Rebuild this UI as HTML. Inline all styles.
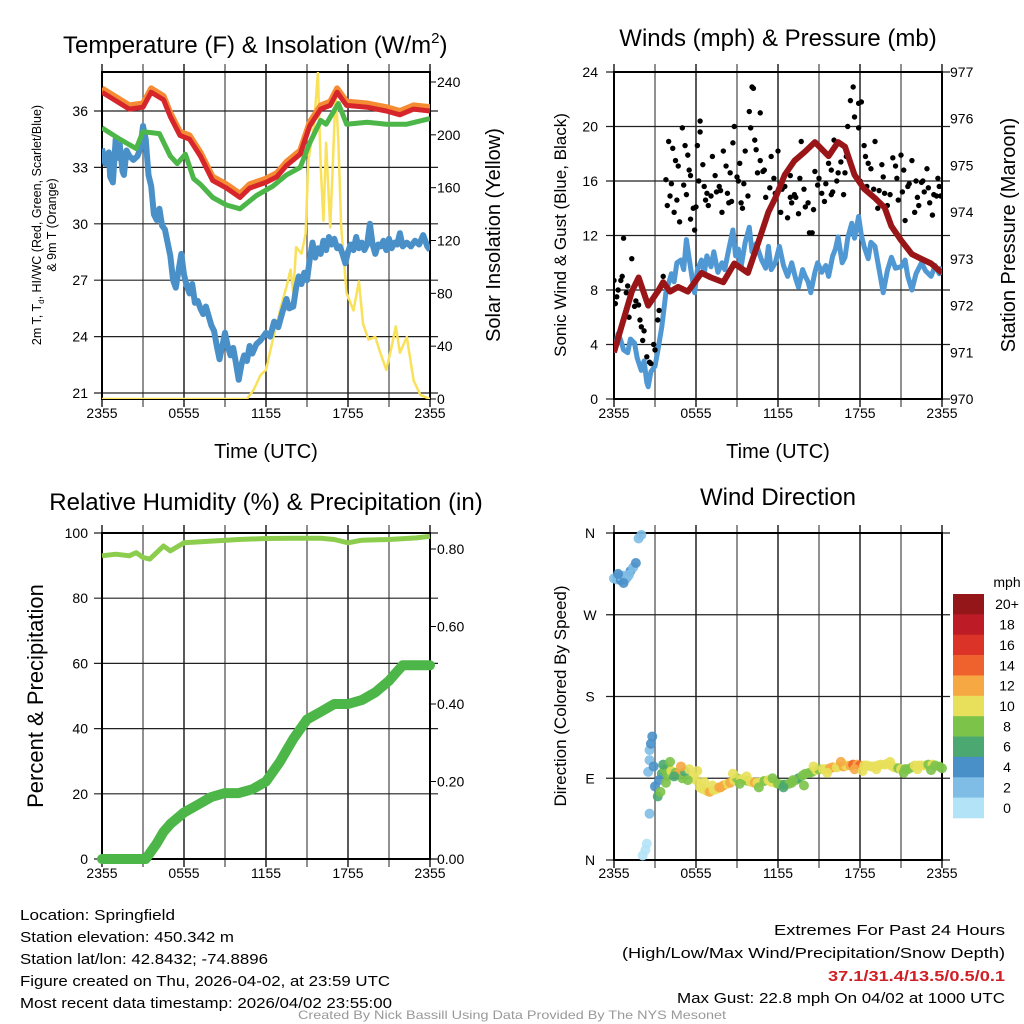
<!DOCTYPE html>
<html><head><meta charset="utf-8"><style>
html,body{margin:0;padding:0;background:#fff;}
svg{display:block;font-family:"Liberation Sans",Arial,sans-serif;}
</style></head><body>
<svg id="c" width="1024" height="1024" viewBox="0 0 1024 1024" xmlns="http://www.w3.org/2000/svg"></svg>
<script>
// ---------- DATA ----------
const tempRedH=[0,2,3,3.6,4.5,5,5.7,6.4,7.2,8.1,9.1,10.1,10.8,12,12.8,13.5,14.5,15.2,16,16.7,17.2,17.9,19.4,20.8,21.8,22.8,24];
const tempRedV=[37.0,36.1,36.2,37.0,36.6,35.7,34.7,34.5,33.6,32.3,31.9,31.4,31.9,32.2,32.5,33.1,33.7,35.2,36.1,36.3,37.0,36.3,36.2,36.0,35.8,36.1,36.0];
const tempOrgV=[37.2,36.3,36.4,37.2,36.8,35.9,34.9,34.7,33.8,32.5,32.1,31.6,32.1,32.4,32.7,33.3,33.9,35.4,36.3,36.5,37.2,36.5,36.4,36.2,36.0,36.3,36.2];
const greenH=[0,1.3,2.5,3,4.2,5,5.5,6.1,6.7,7.2,8.1,9.1,10.1,11.3,12.5,13.5,14.5,15.2,16,16.4,17.3,17.9,19.4,20.8,22.3,24];
const greenV=[35.1,34.5,34.0,34.9,34.8,33.6,33.2,33.7,32.4,32.1,31.4,31.0,30.8,31.5,32.0,32.6,33.0,34.3,35.5,35.3,36.4,35.3,35.4,35.3,35.3,35.6];
const dewH=[0,0.25,0.5,0.6,0.8,1.0,1.1,1.3,1.5,1.6,1.8,2.0,2.3,2.6,2.8,3.0,3.2,3.4,3.6,3.8,4.0,4.2,4.4,4.6,4.8,5.0,5.2,5.4,5.6,5.8,6.0,6.2,6.4,6.6,6.8,7.0,7.2,7.4,7.6,7.8,8.0,8.2,8.4,8.6,8.8,9.0,9.2,9.4,9.6,9.8,10.0,10.2,10.4,10.6,10.8,11.0,11.3,11.6,12.0,12.3,12.6,12.9,13.2,13.5,13.7,14.0,14.2,14.4,14.6,14.8,15.0,15.2,15.4,15.6,15.8,16.0,16.2,16.4,16.6,16.8,17.0,17.2,17.4,17.6,17.8,18.0,18.2,18.4,18.6,18.8,19.0,19.2,19.4,19.6,19.8,20.0,20.2,20.4,20.6,20.8,21.0,21.2,21.4,21.6,21.8,22.0,22.3,22.6,22.9,23.2,23.5,23.8,24];
const dewV=[34.0,33.2,33.8,32.5,32.2,34.5,33.5,34.2,32.8,32.6,33.9,33.6,33.4,33.6,34.0,35.2,34.5,32.6,32.0,30.5,30.2,30.8,29.9,29.7,29.0,28.3,27.0,26.6,27.5,28.4,27.3,26.7,26.3,26.8,25.8,25.9,25.5,25.2,25.6,25.1,24.6,24.3,23.5,22.8,23.5,24.2,23.5,23.0,23.4,22.6,21.7,22.5,23.0,22.7,23.5,23.1,23.6,23.8,24.2,24.0,24.8,24.5,25.3,26.0,25.5,25.6,26.6,27.2,26.8,27.4,27.0,28.1,29.0,28.2,28.7,28.4,29.1,28.6,29.3,28.9,29.2,28.7,28.8,28.4,27.9,28.5,28.9,28.6,29.3,28.7,29.0,28.6,28.9,30.0,28.9,28.4,28.9,28.8,29.1,28.6,29.2,28.7,29.0,28.9,29.5,28.8,29.0,28.8,29.1,28.9,29.4,28.8,28.6];
const solarH=[0,10.6,11.1,11.6,12,12.5,13.1,13.5,13.8,14,14.2,14.6,14.9,15.1,15.5,15.8,16,16.2,16.4,16.7,16.9,17.1,17.3,17.5,17.9,18.4,18.8,19.1,19.5,20,20.3,20.8,21.2,21.5,21.8,22.3,22.8,23.3,24];
const solarV=[0,0,7,18,22,45,70,85,98,80,115,110,125,181,206,247,176,135,194,130,181,234,194,130,80,67,89,57,45,47,37,22,40,55,35,47,14,3,0];
const windH=[0,0.3,0.5,0.7,1,1.2,1.5,1.7,2,2.2,2.4,2.5,2.7,3,3.2,3.5,3.7,3.8,4.0,4.2,4.4,4.6,4.9,5.1,5.3,5.5,5.7,5.9,6.1,6.4,6.6,6.8,7.1,7.3,7.6,7.9,8.1,8.4,8.7,8.9,9.1,9.3,9.6,9.9,10.1,10.4,10.8,11.1,11.3,11.5,11.8,12.1,12.4,12.7,13.0,13.3,13.5,13.8,14,14.2,14.4,14.7,14.9,15.2,15.5,15.7,16.0,16.2,16.4,16.7,16.9,17.1,17.4,17.6,17.9,18.1,18.3,18.6,18.8,19.1,19.4,19.7,20.0,20.3,20.6,21,21.3,21.5,21.8,22.1,22.5,22.8,23.2,23.5,23.8,24];
const windV=[3.4,4.8,4.3,3.6,3.4,4.4,4.1,3.0,2.1,2.8,1.2,0.9,2.0,2.4,3.5,5.3,7.0,7.8,8.5,9.2,8.6,10.0,10.2,9.5,11.7,10.3,9.0,7.8,9.5,10.2,9.2,10.5,9.7,10.8,9.3,10.0,9.5,11.0,12.4,10.5,11.0,9.7,11.5,12.6,10.8,11.4,10.2,9.6,11.2,9.5,10.0,11.2,9.8,9.0,10.0,8.8,8.2,9.5,9.0,8.6,7.8,9.3,10.0,9.3,9.8,9.0,10.5,11.0,11.9,10.0,10.4,11.8,12.9,11.8,13.4,12.0,11.2,10.3,11.5,11.2,9.5,7.8,9.4,10.4,9.6,9.7,10.2,9.0,8.0,9.2,10.0,9.4,9.0,9.8,9.2,9.7];
const presH=[0,0.5,1.3,1.8,2.5,3.2,3.6,4.1,4.7,5.4,6.4,7.1,8,8.8,9.8,10.5,11.3,11.8,12.5,13.2,14,14.7,15.7,16.4,16.9,17.6,18.3,19.1,19.8,20.3,21,21.8,22.5,23.2,24];
const presV=[971.0,971.5,972.3,972.6,972.0,972.3,972.5,972.3,972.4,972.3,972.7,972.6,972.5,972.9,972.7,973.3,974.0,974.3,974.8,975.1,975.3,975.5,975.2,975.5,975.4,974.8,974.5,974.3,974.1,973.7,973.4,973.1,973.0,972.9,972.7];
const gustH=[0,0.1,0.3,0.5,0.7,0.9,1.1,1.3,1.5,1.8,1.9,2,2.1,2.4,2.6,2.7,3,3.2,3.3,3.3,3.6,3.8,3.9,4,4.1,4.3,4.4,4.6,4.7,4.8,5,5.1,5.2,5.4,5.5,5.8,5.9,6,6.1,6.3,6.3,6.5,6.6,6.8,6.9,7.1,7.4,7.5,7.7,7.9,8,8.2,8.3,8.5,8.7,8.8,9,9.2,9.3,9.4,9.6,9.8,9.9,10,10.1,10.2,10.3,10.4,10.7,10.7,10.9,11.4,11.5,11.8,12,12.2,12.5,12.7,13,13.2,13.5,13.6,13.7,14,14.2,14.3,14.5,14.7,14.9,15.2,15.4,15.7,15.9,16.1,16.4,16.6,16.9,17.1,17.3,17.5,17.6,17.9,17.9,18.1,18.3,18.4,18.6,18.8,19.1,19.4,19.6,19.8,20,20.4,20.6,20.8,21,21.2,21.3,21.5,21.8,22,22.1,22.3,22.6,22.7,22.9,23.1,23.3,23.6,23.7,23.9,
 0.2,0.6,1.0,1.6,2.2,2.9,4.2,4.5,5.3,5.6,6.2,6.7,7.2,7.8,8.4,9.1,9.5,10.5,11.1,11.7,12.3,12.9,13.3,13.9,14.6,15.0,15.5,16.0,16.3,16.8,17.0,18.0,18.5,19.0,19.3,19.7,20.2,20.7,21.1,21.6,22.2,22.5,23.0,23.4,23.8,15.9,12.9,11.0,8.6,5.6];
const gustV=[8.7,7.0,8.0,8.7,11.8,7.8,6.0,10.3,6.8,6.9,5.8,5.3,4.3,3.1,2.7,2.6,3.6,5.8,6.5,8.0,9.0,16.1,14.2,18.9,14.9,18.4,13.7,14.6,17.1,13.0,19.9,15.7,18.6,17.9,16.8,14.0,12.4,14.1,18.6,19.6,20.4,17.2,15.6,15.1,14.2,14.9,16.4,15.2,15.6,13.7,18.2,17.1,15.1,16.6,18.8,20.0,16.3,17.3,14.4,14.0,18.2,14.9,21.1,19.9,22.9,22.8,19.0,18.3,21.0,17.5,16.7,15.5,17.8,15.1,18.2,13.7,15.6,13.3,14.4,15.0,13.6,16.2,18.9,14.1,14.4,12.2,12.2,16.7,15.7,15.1,14.5,17.3,16.8,19.0,16.6,17.4,16.6,20.0,21.9,22.9,20.7,19.9,21.7,21.8,18.6,17.8,17.3,16.9,18.9,15.3,17.2,15.1,14.2,17.7,17.1,14.6,17.9,16.8,13.1,15.6,17.5,13.7,16.0,14.2,16.0,15.2,16.9,14.4,13.5,14.9,16.2,14.9,
 7.5,9.0,8.3,7.2,5.0,4.0,15.8,17.5,15.0,16.4,16.0,14.6,17.8,15.3,14.4,16.0,15.8,16.6,14.8,16.2,15.4,16.4,14.8,15.4,13.9,16.2,15.8,15.2,16.0,15.0,17.8,16.0,15.6,15.4,14.0,16.3,15.0,16.2,15.2,15.8,14.8,15.9,15.5,15.0,15.6,15.0,14.8,16.8,14.5,13.2];
const rhH=[0,1,2,2.5,3,3.5,4,4.5,5,6,8,10,12,14,16,17,18,19,21,23,24];
const rhV=[93,93.5,93,94,92.5,92,94,96,94.5,97,97.5,98,98.3,98.4,98.4,98,97,97.8,98,98.5,99];
const prcH=[0,3.2,4,4.5,5,6,7,8,9,10,11,12,13,14,15,16,17,18,19,20,21,21.5,22,24];
const prcV=[0,0,0.04,0.07,0.09,0.12,0.14,0.16,0.17,0.17,0.18,0.2,0.25,0.31,0.36,0.38,0.40,0.40,0.41,0.43,0.46,0.48,0.50,0.50];
const dirH=[0,0.2,0.4,0.5,0.6,0.7,0.8,0.9,1.0,1.2,1.4,1.6,1.8,2.0,2.1,2.3,2.4,2.6,2.6,2.5,2.6,2.7,2.8,2.9,3.0,3.2,3.4,3.5,3.7,3.9,4.0,4.2,4.5,4.7,5.0,5.2,5.5,5.8,6.0,6.3,6.5,6.8,7.0,7.3,7.5,7.8,8.0,8.3,8.5,8.8,9.0,9.3,9.5,9.8,10.0,10.3,10.5,10.8,11.0,11.3,11.5,11.8,12.0,12.3,12.5,12.8,13.0,13.3,13.5,13.8,14.0,14.3,14.5,14.8,15.0,15.3,15.5,15.8,16.0,16.3,16.5,16.8,17.0,17.3,17.5,17.8,18.0,18.3,18.5,18.8,19.0,19.3,19.5,19.8,20.0,20.3,20.5,20.8,21.0,21.3,21.5,21.8,22.0,22.3,22.5,22.8,23.0,23.3,23.5,23.8,24.0,
 0.3,0.7,1.1,3.3,3.6,3.8,4.1,4.4,4.9,5.4,6.1,6.6,7.2,7.7,8.7,9.2,9.7,10.6,11.6,12.4,13.1,13.9,14.6,15.6,16.6,17.6,18.2,19.2,20.2,21.2,22.2,23.2];
const dirV=[310,309,312,308,311,313,309,310,312,318,322,327,354,358,5,11,18,51,110,97,121,128,136,103,81,70,75,95,100,92,100,98,96,95,90,97,100,92,88,80,78,76,75,77,78,80,82,84,85,88,90,89,88,87,86,85,85,86,87,88,86,85,84,83,83,84,85,88,90,93,95,96,97,99,100,100,100,101,102,102,103,103,104,104,105,105,104,104,104,103,103,104,105,105,106,104,102,101,100,100,100,102,104,104,104,104,105,105,104,103,101,
 315,305,314,88,105,85,108,92,103,88,98,86,82,80,95,84,92,80,90,80,88,82,103,96,108,100,98,100,108,96,100,99];
const dirS=[3,3.5,3,4,3.5,3,4,3.5,3,4,3.5,4,2.5,2.5,1,1.5,1.5,3,3,2.5,3,4,5,5,5,7,8,7,8,9,8,10,9,12,8,6,10,10,11,10,10,11,12,10,11,12,13,10,12,10,9,10,11,9,10,12,11,10,9,10,11,10,8,9,7,8,9,8,7,8,9,8,9,10,9,10,11,12,13,11,11,12,10,13,14,13,15,11,10,11,10,10,11,10,10,11,10,9,10,8,9,9,10,11,10,10,9,10,9,8,8,
 4,4,3,5,7,8,9,7,12,9,10,11,10,12,10,8,10,9,8,7,9,8,10,11,12,13,10,10,11,9,10,8];
const temp1Ticks=[21,24,27,30,33,36];
const solarTicks=[0,40,80,120,160,200,240];
const windTicks=[0,4,8,12,16,20,24];
const presTicks=[970,971,972,973,974,975,976,977];
const rhTicks=[0,20,40,60,80,100];
const prcTicks=[0,0.2,0.4,0.6,0.8];
const prcTickLabels=["0.00","0.20","0.40","0.60","0.80"];
const dirTicks=[0,90,180,270,360];
const dirTickLabels=["N","E","S","W","N"];
const timeTickH=[0,6,12,18,24];
const timeTickLabels=["2355","0555","1155","1755","2355"];
const cbLabels=["20+","18","16","14","12","10","8","6","4","2","0"];
const cbColors=["#941618","#bd1c26","#db3328","#f0622d","#f6a943","#e8e05a","#7cc34a","#4aa870","#4a90c8","#7fbde6","#b3e3f7"];

// ---------- HELPERS ----------
const NS="http://www.w3.org/2000/svg";
const svg=document.getElementById('c');
function mk(tag,attrs,parent){const e=document.createElementNS(NS,tag);for(const k in attrs)e.setAttribute(k,attrs[k]);(parent||svg).appendChild(e);return e;}
function txt(s,x,y,size,anchor,parent,extra){const e=mk('text',Object.assign({x:x,y:y,'font-size':size,'text-anchor':anchor||'start',fill:'#000'},extra||{}),parent);e.textContent=s;return e;}
function lin(d0,d1,p0,p1){return v=>p0+(v-d0)*(p1-p0)/(d1-d0);}
function poly(xs,ys,fx,fy){return xs.map((h,i)=>fx(h).toFixed(1)+','+fy(ys[i]).toFixed(1)).join(' ');}
function speedColor(s){const idx=Math.min(10,Math.floor(s/2));return cbColors[10-idx];}

function panelFrame(g,L,R,T,B,hGridYs){
  for(let h=0;h<=24;h+=3){const x=L+(R-L)*h/24;
    const e=mk('line',{x1:x,x2:x,y1:T-8,y2:B+8,stroke:(h%6===0)?'#000':'#555','stroke-width':1.3},g);
    }
  hGridYs.forEach(y=>{const e=mk('line',{x1:L-8,x2:R+8,y1:y,y2:y,stroke:'#222','stroke-width':1.2},g);
    });
  const b=mk('rect',{x:L,y:T,width:R-L,height:B-T,fill:'none',stroke:'#000','stroke-width':2},g);
  
}
function xLabels(g,L,R,y){timeTickH.forEach((h,i)=>{const e=txt(timeTickLabels[i],L+(R-L)*h/24,y,14,'middle',g);
  });}

// ---------- PANEL 1 ----------
(function(){
  const g=mk('g',{});
  const L=102,R=430,T=72,B=399;
  const fx=lin(0,24,L,R), fy=lin(21,36,393,111), fs=lin(0,240,399,82);
  panelFrame(g,L,R,T,B,temp1Ticks.map(fy));
  temp1Ticks.forEach(v=>{const e=txt(String(v),88,fy(v)+5,14,'end',g);});
  solarTicks.forEach(v=>{mk('line',{x1:R,x2:R+6,y1:fs(v),y2:fs(v),stroke:'#000'},g);
    const e=txt(String(v),437,fs(v)+5,14,'start',g);});
  const clip=mk('clipPath',{id:'cp1'},g);mk('rect',{x:L,y:T,width:R-L,height:B-T},clip);
  const dg=mk('g',{'clip-path':'url(#cp1)'},g);
  let e;
  e=mk('polyline',{points:poly(solarH,solarV,fx,fs),fill:'none',stroke:'#f9e15a','stroke-width':2.5,'stroke-linejoin':'round'},dg);
  e=mk('polyline',{points:poly(dewH,dewV,fx,fy),fill:'none',stroke:'#4a90c8','stroke-width':6,'stroke-linejoin':'round'},dg);
  e=mk('polyline',{points:poly(greenH,greenV,fx,fy),fill:'none',stroke:'#4cb648','stroke-width':5,'stroke-linejoin':'round'},dg);
  e=mk('polyline',{points:poly(tempRedH,tempOrgV,fx,fy),fill:'none',stroke:'#f58b32','stroke-width':6,'stroke-linejoin':'round'},dg);
  e=mk('polyline',{points:poly(tempRedH,tempRedV,fx,fy),fill:'none',stroke:'#d7262b','stroke-width':5,'stroke-linejoin':'round'},dg);
  xLabels(g,L,R,418);
  e=txt('Temperature (F) & Insolation (W/m',63,53,24,'start',g);
  const sup=mk('tspan',{'font-size':15,dy:-10},e);sup.textContent='2';const cl=mk('tspan',{'font-size':24,dy:10},e);cl.textContent=')';
  e=txt('Time (UTC)',266,458,20,'middle',g);
  e=txt('2m T, T',0,0,12.5,'middle',g,{transform:'translate(41,225) rotate(-90)'});
  const sb=mk('tspan',{'font-size':8,dy:3},e);sb.textContent='d';const rest=mk('tspan',{dy:-3},e);rest.textContent=', HI/WC (Red, Green, Scarlet/Blue)';
  e=txt('& 9m T (Orange)',0,0,12.5,'middle',g,{transform:'translate(56,225) rotate(-90)'});
  e=txt('Solar Insolation (Yellow)',0,0,20,'middle',g,{transform:'translate(500,235) rotate(-90)'});
})();

// ---------- PANEL 2 ----------
(function(){
  const g=mk('g',{});
  const L=614,R=942,T=72,B=399;
  const fx=lin(0,24,L,R), fy=lin(0,24,399,72), fp=lin(970,977,399,72);
  panelFrame(g,L,R,T,B,windTicks.map(fy));
  windTicks.forEach(v=>{const e=txt(String(v),598,fy(v)+5,14,'end',g);});
  presTicks.forEach(v=>{const e=txt(String(v),950,fp(v)+5,14,'start',g);});
  const clip=mk('clipPath',{id:'cp2'},g);mk('rect',{x:L,y:T,width:R-L,height:B-T},clip);
  const dg=mk('g',{'clip-path':'url(#cp2)'},g);
  let e=mk('polyline',{points:poly(windH,windV,fx,fy),fill:'none',stroke:'#4f98d3','stroke-width':5,'stroke-linejoin':'round'},dg);
  gustH.forEach((h,i)=>{const c=mk('circle',{cx:fx(h),cy:fy(gustV[i]),r:2.7,fill:'#000'},dg);
    });
  e=mk('polyline',{points:poly(presH,presV,fx,fp),fill:'none',stroke:'#9a1518','stroke-width':6,'stroke-linejoin':'round'},dg);
  xLabels(g,L,R,418);
  e=txt('Winds (mph) & Pressure (mb)',778,46,24,'middle',g);
  e=txt('Time (UTC)',778,458,20,'middle',g);
  e=txt('Sonic Wind & Gust (Blue, Black)',0,0,17,'middle',g,{transform:'translate(566,235) rotate(-90)'});
  e=txt('Station Pressure (Maroon)',0,0,20,'middle',g,{transform:'translate(1015,235) rotate(-90)'});
})();

// ---------- PANEL 3 ----------
(function(){
  const g=mk('g',{});
  const L=102,R=430,T=533,B=859;
  const fx=lin(0,24,L,R), fy=lin(0,100,859,533), fp=lin(0,0.8,859,549);
  panelFrame(g,L,R,T,B,rhTicks.map(fy));
  rhTicks.forEach(v=>{const e=txt(String(v),88,fy(v)+5,14,'end',g);});
  prcTicks.forEach((v,i)=>{mk('line',{x1:R,x2:R+6,y1:fp(v),y2:fp(v),stroke:'#000'},g);
    const e=txt(prcTickLabels[i],437,fp(v)+5,14,'start',g);});
  let e=mk('polyline',{points:poly(rhH,rhV,fx,fy),fill:'none',stroke:'#8ccd4e','stroke-width':5,'stroke-linejoin':'round'},g);
  e=mk('polyline',{points:poly(prcH,prcV,fx,fp),fill:'none',stroke:'#4cb648','stroke-width':10,'stroke-linejoin':'round','stroke-linecap':'round'},g);
  xLabels(g,L,R,878);
  e=txt('Relative Humidity (%) & Precipitation (in)',266,510,24,'middle',g);
  e=txt('Percent & Precipitation',0,0,22,'middle',g,{transform:'translate(43,696) rotate(-90)'});
})();

// ---------- PANEL 4 ----------
(function(){
  const g=mk('g',{});
  const L=614,R=942,T=533,B=860;
  const fx=lin(0,24,L,R), fy=lin(0,360,860,533);
  panelFrame(g,L,R,T,B,dirTicks.map(fy));
  dirTicks.forEach((v,i)=>{const e=txt(dirTickLabels[i],590,fy(v)+5,14,'middle',g);});
  dirH.forEach((h,i)=>{const c=mk('circle',{cx:fx(h),cy:fy(dirV[i]),r:5,fill:speedColor(dirS[i]),opacity:0.9},g);
    });
  xLabels(g,L,R,878);
  let e=txt('Wind Direction',778,505,24,'middle',g);
  e=txt('Direction (Colored By Speed)',0,0,17,'middle',g,{transform:'translate(566,696) rotate(-90)'});
  const cb=mk('g',{},g);
  const segH=224/cbColors.length;
  cbColors.forEach((c,i)=>{const r=mk('rect',{x:953,y:594+i*segH,width:31,height:segH+0.3,fill:c},cb);
    
    const t=txt(cbLabels[i],1007,594+i*segH+segH/2+5,14,'middle',cb);});
  e=txt('mph',1007,587,14,'middle',cb);
})();

// ---------- FOOTER TEXT ----------
(function(){
  const g=mk('g',{});
  const lines=[["Location: Springfield",155],["Station elevation: 450.342 m",214],["Station lat/lon: 42.8432; -74.8896",248],["Figure created on Thu, 2026-04-02, at 23:59 UTC",370],["Most recent data timestamp: 2026/04/02 23:55:00",372]];
  lines.forEach((l,i)=>{const e=txt(l[0],20,920+i*22,15,'start',g,{textLength:l[1],lengthAdjust:'spacingAndGlyphs'});});
  const g2=mk('g',{});
  let e=txt('Extremes For Past 24 Hours',1005,935,15,'end',g2,{textLength:231,lengthAdjust:'spacingAndGlyphs'});
  e=txt('(High/Low/Max Wind/Precipitation/Snow Depth)',1005,958,15,'end',g2,{textLength:383,lengthAdjust:'spacingAndGlyphs'});
  e=txt('37.1/31.4/13.5/0.5/0.1',1005,981,15,'end',g2,{fill:'#d11f26','font-weight':'bold',textLength:177,lengthAdjust:'spacingAndGlyphs'});
  e=txt('Max Gust: 22.8 mph On 04/02 at 1000 UTC',1005,1003,15,'end',g2,{textLength:328,lengthAdjust:'spacingAndGlyphs'});
  e=txt('Created By Nick Bassill Using Data Provided By The NYS Mesonet',512,1019,12,'middle',svg,{fill:'#999',textLength:428,lengthAdjust:'spacingAndGlyphs'});
})();
</script>
</body></html>
